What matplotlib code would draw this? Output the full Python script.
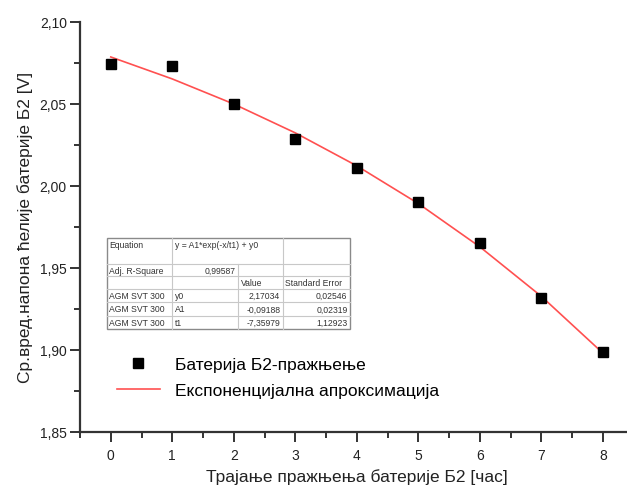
import matplotlib
matplotlib.use("Agg")
import matplotlib.pyplot as plt
from matplotlib.patches import Rectangle
from matplotlib.lines import Line2D

plt.rcParams['font.family'] = ['Liberation Sans', 'DejaVu Sans']

# data
hours = [0, 1, 2, 3, 4, 5, 6, 7, 8]
voltage = [2.0742, 2.0728, 2.0498, 2.0285, 2.0110, 1.9902, 1.9649, 1.9313, 1.8984]
# fitted curve values (y = A1*exp(-x/t1) + y0) at the same hours
fit_values = [2.0785, 2.0651, 2.0498, 2.0322, 2.0121, 1.9891, 1.9627, 1.9325, 1.8979]

xticks = [0, 1, 2, 3, 4, 5, 6, 7, 8]
yticks = [1.85, 1.90, 1.95, 2.00, 2.05, 2.10]
ytick_labels = ['1,85', '1,90', '1,95', '2,00', '2,05', '2,10']

legend_labels = ['Батерија Б2-пражњење', 'Експоненцијална апроксимација']
xlabel = 'Трајање пражњења батерије Б2 [час]'
ylabel = 'Ср.вред.напона ћелије батерије Б2 [V]'

table_rows = [
    ['Equation', 'y = A1*exp(-x/t1) + y0', '', ''],
    ['Adj. R-Square', '0,99587', '', ''],
    ['', '', 'Value', 'Standard Error'],
    ['AGM SVT 300', 'y0', '2,17034', '0,02546'],
    ['AGM SVT 300', 'A1', '-0,09188', '0,02319'],
    ['AGM SVT 300', 't1', '-7,35979', '1,12923'],
]

W, H = 627, 489
fig = plt.figure(figsize=(W / 100, H / 100), dpi=100)
ax_left, ax_right, ax_top, ax_bot = 80, 633.7, 22.7, 432.7
ax = fig.add_axes([ax_left / W, 1 - ax_bot / H, (ax_right - ax_left) / W, (ax_bot - ax_top) / H])

spine_col = '#333333'
ax.plot(hours, fit_values, color='#ff5050', lw=1.2, zorder=2)
ax.plot(hours, voltage, ls='none', marker='s', color='black', markersize=6.7, zorder=3)

ax.set_xlim(-0.5, 8.5)
ax.set_ylim(1.85, 2.10)
ax.set_xticks(xticks)
ax.set_xticklabels([str(v) for v in xticks])
ax.set_yticks(yticks)
ax.set_yticklabels(ytick_labels)
ax.set_xticks([x + 0.5 for x in range(-1, 9)], minor=True)
ax.set_yticks([1.875, 1.925, 1.975, 2.025, 2.075], minor=True)

for s in ['top', 'right']:
    ax.spines[s].set_visible(False)
for s in ['left', 'bottom']:
    ax.spines[s].set_linewidth(1.6)
    ax.spines[s].set_color(spine_col)
ax.tick_params(which='major', direction='out', length=7, width=1.4, color=spine_col,
               labelsize=10, labelcolor='#222222')
ax.tick_params(axis='y', which='major', pad=2.5)
ax.tick_params(axis='x', which='major', pad=5)
ax.tick_params(which='minor', direction='out', length=4, width=1.4, color=spine_col)

ax.set_xlabel(xlabel, fontsize=12.5, color='#222222', labelpad=4)
ax.set_ylabel(ylabel, fontsize=12.5, color='#222222', labelpad=5)

handles = [Line2D([], [], ls='none', marker='s', color='black', markersize=6.7),
           Line2D([], [], color='#ff5050', lw=1.2)]
lx = (117 - ax_left) / (ax_right - ax_left)
ly = (ax_bot - 378.4) / (ax_bot - ax_top)
ax.legend(handles, legend_labels, loc='center left', bbox_to_anchor=(lx, ly), frameon=False,
          fontsize=12.5, handlelength=2.47, handletextpad=0.86, labelspacing=0.67,
          borderpad=0, borderaxespad=0, numpoints=1)

# parameter table (figure pixel layout)
col_x = [106.7, 172.3, 238.3, 282.7, 350]
row_y = [239.3, 265, 277.3, 290, 303.3, 316.7, 330]
tr = fig.transFigure

def fx(px):
    return px / W

def fy(py):
    return 1 - py / H

light = '#c8c8c8'
for y in row_y[1:-1]:
    fig.add_artist(Line2D([fx(col_x[0]), fx(col_x[-1])], [fy(y), fy(y)], color=light, lw=0.8))
fig.add_artist(Line2D([fx(col_x[1])] * 2, [fy(row_y[0]), fy(row_y[-1])], color=light, lw=0.8))
fig.add_artist(Line2D([fx(col_x[2])] * 2, [fy(row_y[1]), fy(row_y[-1])], color=light, lw=0.8))
fig.add_artist(Line2D([fx(col_x[3])] * 2, [fy(row_y[0]), fy(row_y[-1])], color=light, lw=0.8))
fig.add_artist(Rectangle((fx(col_x[0]), fy(row_y[-1])), fx(col_x[-1]) - fx(col_x[0]),
                         fy(row_y[0]) - fy(row_y[-1]), transform=tr, fill=False,
                         edgecolor='#8a8a8a', lw=1.0))

tfs = 6.2
tcol = '#333333'
for r, row in enumerate(table_rows):
    if r == 0:
        yc = row_y[0] + 6
    else:
        yc = (row_y[r] + row_y[r + 1]) / 2
    for c, txt in enumerate(row):
        if not txt:
            continue
        right_align = (r == 1 and c == 1) or (r >= 3 and c >= 2)
        if right_align:
            x = col_x[c + 1] - 2.5
            ha = 'right'
        else:
            x = col_x[c] + 2.5
            ha = 'left'
        fig.text(fx(x), fy(yc), txt, fontsize=tfs, color=tcol, ha=ha, va='center')

fig.savefig('out.png', dpi=100)
